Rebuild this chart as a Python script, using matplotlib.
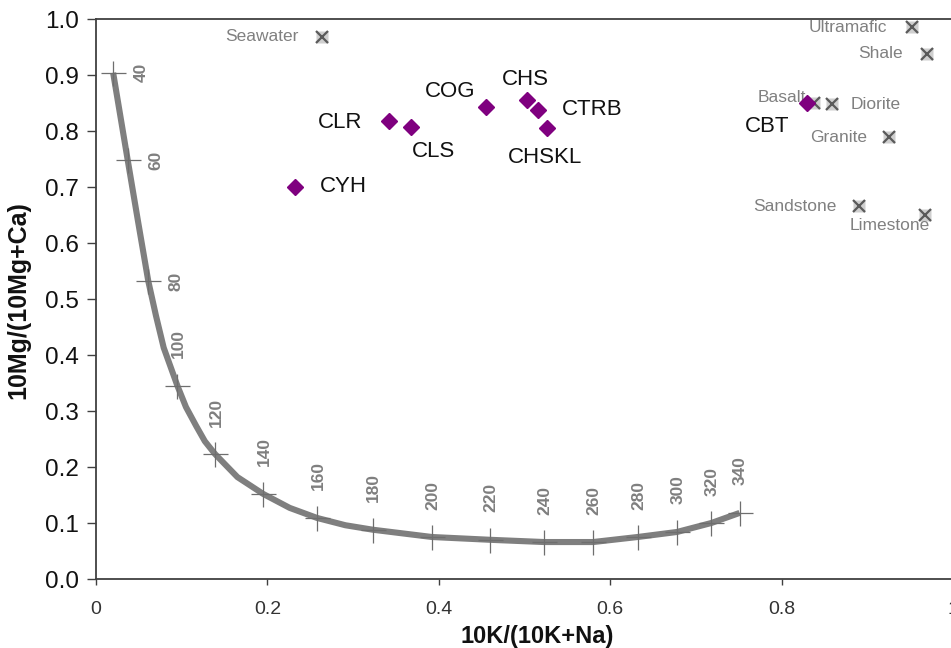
import matplotlib
matplotlib.use("Agg")
import matplotlib.pyplot as plt
import numpy as np

plt.rcParams['font.family'] = ['Liberation Sans', 'DejaVu Sans']

# ---------------- data ----------------
# full-equilibrium curve
curve_x = [0.020, 0.037, 0.049, 0.061, 0.070, 0.079, 0.095, 0.105, 0.117, 0.127,
           0.139, 0.165, 0.195, 0.226, 0.258, 0.291, 0.323, 0.392, 0.460, 0.523,
           0.580, 0.632, 0.678, 0.718, 0.751]
curve_y = [0.904, 0.748, 0.639, 0.532, 0.470, 0.413, 0.345, 0.307, 0.273, 0.246,
           0.223, 0.182, 0.152, 0.127, 0.109, 0.096, 0.088, 0.075, 0.070, 0.066,
           0.066, 0.075, 0.084, 0.100, 0.118]

# temperature ticks along the curve
temps = [40, 60, 80, 100, 120, 140, 160, 180, 200, 220, 240, 260, 280, 300, 320, 340]
temp_x = [0.020, 0.037, 0.061, 0.095, 0.139, 0.195, 0.258, 0.323, 0.392, 0.460,
          0.523, 0.580, 0.632, 0.678, 0.718, 0.751]
temp_y = [0.904, 0.748, 0.532, 0.345, 0.223, 0.152, 0.109, 0.088, 0.075, 0.070,
          0.066, 0.066, 0.075, 0.084, 0.100, 0.118]

# samples
samples = ['CYH', 'CLR', 'CLS', 'COG', 'CHS', 'CTRB', 'CHSKL', 'CBT']
sample_x = [0.232, 0.342, 0.368, 0.455, 0.503, 0.516, 0.526, 0.830]
sample_y = [0.700, 0.818, 0.807, 0.843, 0.855, 0.838, 0.805, 0.850]

# reference rock / water compositions
rocks = ['Seawater', 'Ultramafic', 'Shale', 'Basalt', 'Diorite', 'Granite',
         'Sandstone', 'Limestone']
rock_x = [0.264, 0.952, 0.970, 0.838, 0.859, 0.925, 0.890, 0.967]
rock_y = [0.968, 0.986, 0.938, 0.850, 0.848, 0.789, 0.666, 0.650]

x_ticks = [0, 0.2, 0.4, 0.6, 0.8, 1.0]
x_ticklabels = ['0', '0.2', '0.4', '0.6', '0.8', '1']
y_ticks = [0.0, 0.1, 0.2, 0.3, 0.4, 0.5, 0.6, 0.7, 0.8, 0.9, 1.0]

# label placement (pixel offsets, alignment) -- styling only
sample_lab = [(25, 0, 'left'), (-27, -2, 'right'), (22, -24, 'center'),
              (-36, 15, 'center'), (-2, 21, 'center'), (24, 0, 'left'),
              (-2, -29, 'center'), (-40, -24, 'center')]
rock_lab = [(-24, 0, 'right'), (-25, -1, 'right'), (-24, 0, 'right'),
            (-8, 6, 'right'), (18, 0, 'left'), (-22, 0, 'right'),
            (-22, 0, 'right'), (-35, -10, 'center')]

# ---------------- figure ----------------
W, H = 951, 648
fig = plt.figure(figsize=(W / 100, H / 100), dpi=100)
ax = fig.add_axes([96 / W, (H - 579) / H, 857 / W, 560 / H])
ax.set_xlim(0, 1)
ax.set_ylim(0, 1)

spine_c = '#404040'
for s in ['left', 'bottom', 'top']:
    ax.spines[s].set_color(spine_c)
    ax.spines[s].set_linewidth(1.3)
ax.spines['right'].set_visible(False)

ax.set_xticks(x_ticks)
ax.set_xticklabels(x_ticklabels)
ax.set_yticks(y_ticks)
ax.set_yticklabels([f'{v:.1f}' for v in y_ticks])
ax.tick_params(axis='y', direction='out', length=6.5, width=1, color=spine_c,
               labelsize=17.5, pad=6, labelcolor='#111111')
ax.tick_params(axis='x', direction='out', length=4.5, width=1, color=spine_c,
               labelsize=14, pad=11, labelcolor='#333333')

ax.set_xlabel('10K/(10K+Na)', fontsize=17, fontweight='bold', color='#111111')
ax.set_ylabel('10Mg/(10Mg+Ca)', fontsize=18, fontweight='bold', color='#111111')
ax.xaxis.set_label_coords((537 - 96) / 857, -(625 - 579) / 560)
ax.yaxis.set_label_coords((30 - 96) / 857, (579 - 300) / 560)

# curve
ax.plot(curve_x, curve_y, color='#7f7f7f', lw=4.4, solid_capstyle='butt',
        solid_joinstyle='round', zorder=2, clip_on=False)
ax.plot(temp_x, temp_y, linestyle='none', marker='+', markersize=18,
        markeredgewidth=0.9, color='#6e6e6e', zorder=3, clip_on=False)

# temperature labels
tx_pix = ax.transData.transform(np.column_stack([temp_x, temp_y]))
for i, (t, x, y) in enumerate(zip(temps, temp_x, temp_y)):
    j0, j1 = max(i - 1, 0), min(i + 1, len(temps) - 1)
    dx = tx_pix[j1, 0] - tx_pix[j0, 0]
    dy = tx_pix[j1, 1] - tx_pix[j0, 1]
    steep = abs(dy) > 3.5 * abs(dx)
    off = (28, 0) if steep else (1, 42)
    ax.annotate(str(t), (x, y), xytext=off, textcoords='offset pixels',
                rotation=90, ha='center', va='center', fontsize=12.5,
                fontweight='bold', color='#7f7f7f', zorder=4)

# rock compositions
ax.plot(rock_x, rock_y, linestyle='none', marker='s', markersize=8.5,
        markerfacecolor='#cfcfcf', markeredgecolor='none', zorder=4, clip_on=False)
ax.plot(rock_x, rock_y, linestyle='none', marker='x', markersize=9,
        markeredgewidth=1.6, color='#5a5a5a', zorder=5, clip_on=False)
for name, x, y, (ox, oy, ha) in zip(rocks, rock_x, rock_y, rock_lab):
    ax.annotate(name, (x, y), xytext=(ox, oy), textcoords='offset pixels',
                ha=ha, va='center', fontsize=12.5, color='#808080', zorder=5)

# samples
ax.plot(sample_x, sample_y, linestyle='none', marker='D', markersize=8.5,
        color='#7f007f', markeredgecolor='#7f007f', zorder=6)
for name, x, y, (ox, oy, ha) in zip(samples, sample_x, sample_y, sample_lab):
    ax.annotate(name, (x, y), xytext=(ox, oy), textcoords='offset pixels',
                ha=ha, va='center', fontsize=16, color='#111111', zorder=6)

fig.savefig('out.png', dpi=100)
